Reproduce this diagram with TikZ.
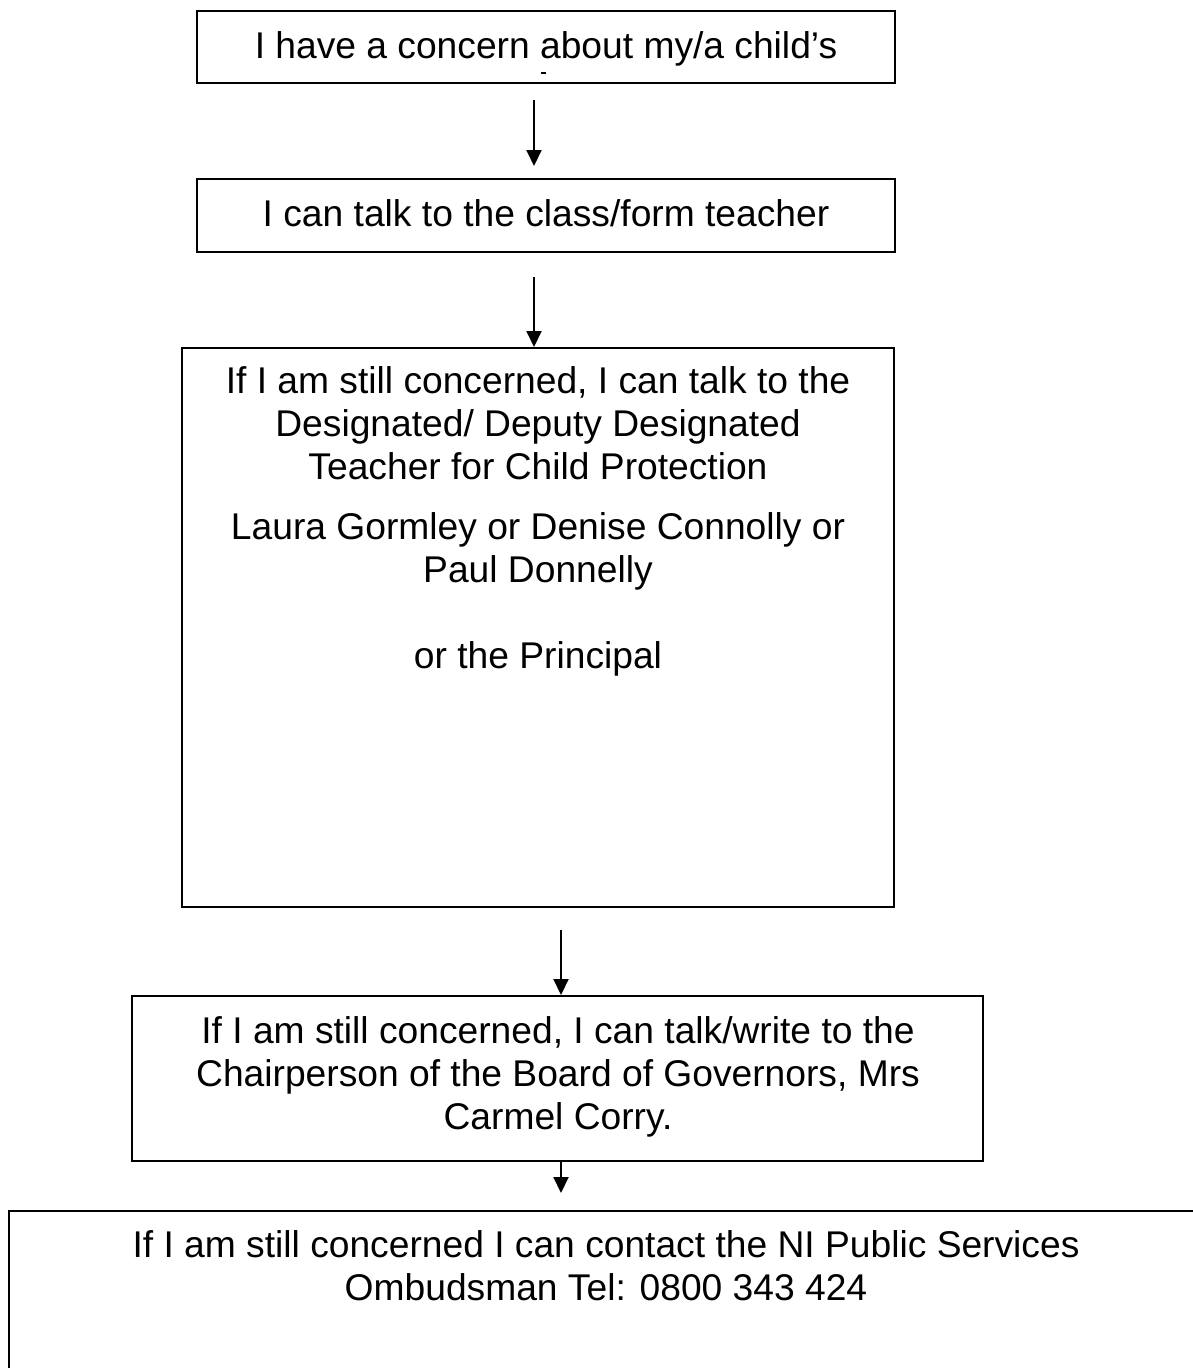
\documentclass[tikz,border=0pt]{standalone}
\usepackage{fontspec}
\setmainfont{Liberation Sans}
\usetikzlibrary{arrows.meta}
\tikzset{
  box/.style={draw, line width=2pt, inner sep=0pt, outer sep=0pt, fill=white},
  boxtext/.style={inner sep=0pt, anchor=base, font=\fontsize{37.2pt}{43pt}\selectfont},
  arr/.style={line width=2pt, -{Triangle[width=15pt,length=16pt]}},
}
\begin{document}
\begin{tikzpicture}[x=1pt,y=-1pt]
\useasboundingbox (0,0) rectangle (1193,1368);
\clip (0,0) rectangle (1193,1368);
\fill[white] (0,0) rectangle (1193,1368);
% boxes
\node[box, minimum width=698pt, minimum height=72pt, text height=27pt, text depth=5pt,
      font=\fontsize{37.2pt}{43pt}\selectfont] (b1) at (546,47) {I have a concern about my/a child’s};
\draw[line width=1.5pt] (541,73) -- (546,73);
\node[box, minimum width=698pt, minimum height=73pt, text height=26pt, text depth=5pt,
      font=\fontsize{37.2pt}{43pt}\selectfont] (b2) at (546,215.5) {I can talk to the class/form teacher};
\node[box, minimum width=712pt, minimum height=559pt] (b3) at (538,627.5) {};
\node[boxtext] (t3) at (538,393) {\begin{tabular}[t]{@{}c@{}}
If I am still concerned, I can talk to the\\
Designated/ Deputy Designated\\
Teacher for Child Protection\\[17pt]
Laura Gormley or Denise Connolly or\\
Paul Donnelly\\[43pt]
or the Principal
\end{tabular}};
\node[box, minimum width=851pt, minimum height=165pt] (b4) at (557.5,1078.5) {};
\node[boxtext] (t4) at (558,1043) {\begin{tabular}[t]{@{}c@{}}
If I am still concerned, I can talk/write to the\\
Chairperson of the Board of Governors, Mrs\\
Carmel Corry.
\end{tabular}};
\node[box, minimum width=1194pt, minimum height=209pt] (b5) at (606,1315.5) {};
\node[boxtext] (t5) at (606,1257) {\begin{tabular}[t]{@{}c@{}}
If I am still concerned I can contact the NI Public Services\\
Ombudsman Tel: 0800 343 424
\end{tabular}};
% connector columns
\coordinate (c1) at (534,0);
\coordinate (c2) at (561,0);
% connectors
\draw[arr, shorten <=17pt, shorten >=13pt] (b1.south -| c1) -- (b2.north -| c1);
\draw[arr, shorten <=25pt, shorten >=1pt] (b2.south -| c1) -- (b3.north -| c1);
\draw[arr, shorten <=23pt, shorten >=1pt] (b3.south -| c2) -- (b4.north -| c2);
\draw[arr, shorten <=0pt, shorten >=18pt] (b4.south -| c2) -- (b5.north -| c2);
\end{tikzpicture}
\end{document}
